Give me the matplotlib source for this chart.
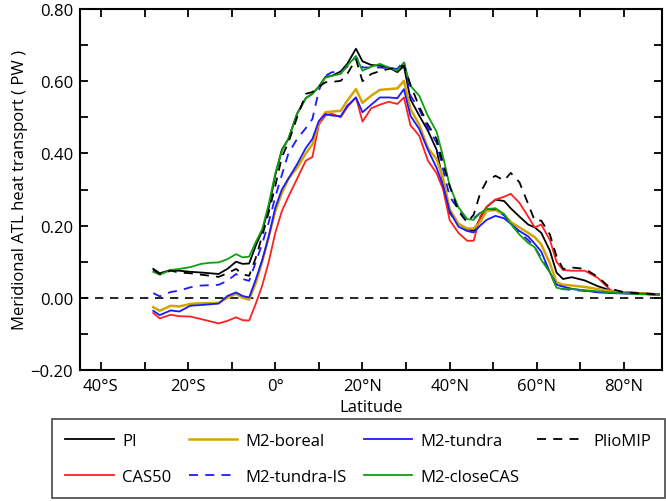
import numpy as np
import matplotlib
matplotlib.use('Agg')
import matplotlib.pyplot as plt
from matplotlib.ticker import MultipleLocator, FuncFormatter

plt.rcParams['font.family'] = ['Open Sans', 'DejaVu Sans']
plt.rcParams['font.size'] = 12

# latitude grid (deg, negative = south)
lat = [-28, -26.5, -24, -22, -19.5, -17, -15, -13, -11, -9,
       -7.5, -6, -4.5, -3, -1.5, 0, 1.5, 3, 5, 7,
       8.5, 10, 11.5, 13, 15, 16.5, 18.5, 20, 22, 24,
       26, 28, 29.5, 31, 33, 35, 37, 38.5, 40, 42,
       44, 45.5, 47, 48.5, 50.5, 52.5, 54, 56, 58, 59.5,
       61, 63, 64.5, 66, 68, 71, 74, 77, 80, 84,
       88]

pi = [0.080, 0.068, 0.077, 0.075, 0.072, 0.070, 0.068, 0.066, 0.080, 0.100,
      0.094, 0.095, 0.144, 0.186, 0.250, 0.340, 0.410, 0.440, 0.510, 0.553,
      0.565, 0.585, 0.612, 0.615, 0.627, 0.648, 0.690, 0.655, 0.645, 0.643,
      0.638, 0.625, 0.642, 0.550, 0.505, 0.463, 0.410, 0.320, 0.235, 0.205,
      0.190, 0.186, 0.220, 0.252, 0.272, 0.268, 0.248, 0.225, 0.203, 0.195,
      0.180, 0.130, 0.070, 0.052, 0.057, 0.048, 0.032, 0.020, 0.016, 0.013,
      0.010]

cas50 = [-0.042, -0.057, -0.047, -0.051, -0.052, -0.059, -0.065, -0.071, -0.064, -0.054,
         -0.062, -0.063, -0.017, 0.034, 0.100, 0.180, 0.240, 0.280, 0.330, 0.380,
         0.390, 0.480, 0.505, 0.510, 0.500, 0.528, 0.555, 0.488, 0.525, 0.535,
         0.543, 0.537, 0.555, 0.478, 0.449, 0.380, 0.345, 0.300, 0.215, 0.180,
         0.158, 0.158, 0.225, 0.252, 0.272, 0.280, 0.288, 0.263, 0.225, 0.195,
         0.203, 0.160, 0.100, 0.077, 0.075, 0.075, 0.055, 0.020, 0.014, 0.011,
         0.008]

boreal = [-0.026, -0.036, -0.022, -0.024, -0.017, -0.015, -0.015, -0.014, 0.000, 0.011,
          0.000, -0.005, 0.040, 0.100, 0.170, 0.240, 0.290, 0.330, 0.360, 0.400,
          0.425, 0.486, 0.514, 0.516, 0.518, 0.546, 0.578, 0.540, 0.560, 0.576,
          0.578, 0.580, 0.601, 0.523, 0.480, 0.415, 0.384, 0.330, 0.245, 0.205,
          0.192, 0.192, 0.210, 0.241, 0.243, 0.230, 0.210, 0.195, 0.180, 0.168,
          0.148, 0.095, 0.043, 0.036, 0.034, 0.030, 0.024, 0.018, 0.015, 0.012,
          0.009]

tundra = [-0.036, -0.048, -0.035, -0.038, -0.022, -0.020, -0.018, -0.016, 0.005, 0.015,
          0.005, 0.001, 0.050, 0.105, 0.170, 0.250, 0.300, 0.330, 0.370, 0.415,
          0.440, 0.490, 0.509, 0.505, 0.503, 0.532, 0.555, 0.514, 0.535, 0.555,
          0.555, 0.553, 0.578, 0.504, 0.468, 0.410, 0.360, 0.310, 0.240, 0.197,
          0.185, 0.181, 0.200, 0.216, 0.227, 0.220, 0.205, 0.185, 0.170, 0.150,
          0.128, 0.070, 0.036, 0.031, 0.025, 0.020, 0.015, 0.013, 0.012, 0.011,
          0.009]

pliomip = [0.078, 0.066, 0.075, 0.070, 0.068, 0.064, 0.061, 0.058, 0.068, 0.080,
           0.065, 0.061, 0.110, 0.172, 0.237, 0.310, 0.390, 0.430, 0.500, 0.565,
           0.570, 0.585, 0.597, 0.598, 0.601, 0.620, 0.661, 0.600, 0.620, 0.628,
           0.634, 0.638, 0.643, 0.590, 0.530, 0.480, 0.440, 0.370, 0.310, 0.240,
           0.209, 0.230, 0.290, 0.324, 0.338, 0.325, 0.346, 0.320, 0.260, 0.214,
           0.214, 0.175, 0.115, 0.080, 0.084, 0.080, 0.058, 0.025, 0.015, 0.012,
           0.009]

tundra_is = [0.013, 0.004, 0.016, 0.020, 0.029, 0.034, 0.035, 0.036, 0.047, 0.066,
             0.052, 0.047, 0.098, 0.150, 0.210, 0.280, 0.340, 0.400, 0.440, 0.470,
             0.495, 0.575, 0.615, 0.625, 0.625, 0.640, 0.669, 0.638, 0.638, 0.638,
             0.636, 0.634, 0.657, 0.560, 0.523, 0.470, 0.430, 0.355, 0.280, 0.245,
             0.218, 0.220, 0.235, 0.246, 0.245, 0.228, 0.204, 0.180, 0.160, 0.140,
             0.110, 0.070, 0.030, 0.024, 0.022, 0.019, 0.016, 0.014, 0.013, 0.011,
             0.009]

closecas = [0.072, 0.064, 0.077, 0.080, 0.085, 0.094, 0.097, 0.098, 0.107, 0.121,
            0.112, 0.114, 0.154, 0.190, 0.260, 0.345, 0.407, 0.440, 0.510, 0.553,
            0.565, 0.585, 0.610, 0.615, 0.620, 0.643, 0.669, 0.629, 0.640, 0.648,
            0.638, 0.629, 0.652, 0.587, 0.560, 0.504, 0.460, 0.390, 0.310, 0.251,
            0.218, 0.216, 0.235, 0.246, 0.248, 0.232, 0.205, 0.175, 0.152, 0.140,
            0.105, 0.070, 0.028, 0.024, 0.024, 0.021, 0.018, 0.015, 0.012, 0.010,
            0.008]

fig = plt.figure(figsize=(6.66, 5.02), dpi=100)
ax = fig.add_axes([80/666, 131/502, 582/666, 361/502])

ax.axhline(0, color='black', lw=1.2, ls=(0, (5, 4)), zorder=1)

l_pi, = ax.plot(lat, pi, color='black', lw=1.3, label='PI')
l_cas, = ax.plot(lat, cas50, color='#ff2020', lw=1.3, label='CAS50')
l_bor, = ax.plot(lat, boreal, color='#d4a500', lw=1.8, label='M2-boreal')
l_tis, = ax.plot(lat, tundra_is, color='#1a1aff', lw=1.3, ls=(0, (5, 4)), label='M2-tundra-IS')
l_tun, = ax.plot(lat, tundra, color='#1a1aff', lw=1.3, label='M2-tundra')
l_ccs, = ax.plot(lat, closecas, color='#10a010', lw=1.3, label='M2-closeCAS')
l_pm, = ax.plot(lat, pliomip, color='black', lw=1.3, ls=(0, (5, 4)), label='PlioMIP')

ax.set_xlim(-44.8, 88.7)
ax.set_ylim(-0.2, 0.8)
ax.xaxis.set_major_locator(MultipleLocator(20))
ax.xaxis.set_minor_locator(MultipleLocator(10))
ax.yaxis.set_major_locator(MultipleLocator(0.2))
ax.yaxis.set_minor_locator(MultipleLocator(0.1))


def latfmt(v, pos):
    v = int(round(v))
    if v < 0:
        return '%d°S' % (-v)
    if v > 0:
        return '%d°N' % v
    return '0°'


ax.xaxis.set_major_formatter(FuncFormatter(latfmt))
ax.yaxis.set_major_formatter(FuncFormatter(lambda v, p: '%.2f' % v if v >= 0 else '\u2212%.2f' % -v))
ax.tick_params(which='both', direction='in', top=True, right=True, length=6, width=1.3)
ax.tick_params(axis='x', pad=6)
ax.tick_params(axis='y', pad=5)
for s in ax.spines.values():
    s.set_linewidth(1.5)

ax.set_xlabel('Latitude', labelpad=3)
ax.set_ylabel('Meridional ATL heat transport ( PW )', labelpad=2)

handles = [l_pi, l_cas, l_bor, l_tis, l_tun, l_ccs, l_pm]
leg = fig.legend(handles, [h.get_label() for h in handles], ncol=4,
                 loc='lower left', bbox_to_anchor=(52/666, 3/502, 613/666, 81/502),
                 mode='expand', fancybox=False, edgecolor='#555555', framealpha=1,
                 handlelength=2.9, handletextpad=0.5, labelspacing=1.2,
                 borderpad=0.8, borderaxespad=0)
leg.get_frame().set_linewidth(1.3)

fig.savefig('out.png', dpi=100)
